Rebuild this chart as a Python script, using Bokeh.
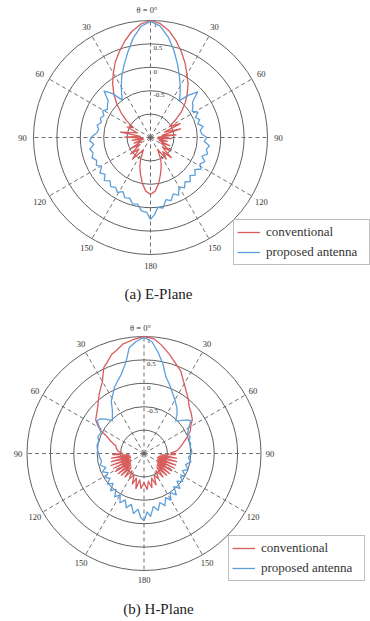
import numpy as np
from bokeh.plotting import figure
from bokeh.models import Range1d, Legend, LegendItem
from bokeh.layouts import column
from bokeh.embed import file_html
from bokeh.resources import INLINE
from bokeh.core.properties import value

# ---------------- data (radial values in the chart's own units) ----------------
R_MIN, R_MAX = -1.5, 1.0
ring_values = [-1.0, -0.5, 0.0, 0.5, 1.0]
radial_tick_values = [1.0, 0.5, 0.0, -0.5]
radial_tick_labels = ["1", "0.5", "0", "-0.5"]
spoke_angles = [0, 30, 60, 90, 120, 150, 180, 210, 240, 270, 300, 330]
angle_tick_labels = ["θ = 0°", "30", "60", "90", "120", "150", "180",
                     "150", "120", "90", "60", "30"]

# E-plane, conventional
e_conv_theta = [-180, -175, -170, -165, -160, -155, -150, -145, -140, -135, -130, -124,
                -119, -114, -109, -104, -99, -94, -89, -84, -80, -71, -66, -60, -55,
                -50, -45, -40, -35, -30, -25, -20, -15, -10, -5,
                0, 5, 10, 15, 20, 25, 30, 35, 40, 45, 50, 55, 60, 65, 69, 74, 79,
                84, 88, 93, 98, 103, 108, 113, 118, 124, 129, 134, 139, 144, 149,
                155, 160, 165, 170, 175, 180]
e_conv_value = [-0.28, -0.35, -0.50, -0.68, -0.83, -1.00, -1.20, -1.08, -0.90, -1.15, -0.95, -1.23,
                -1.03, -1.28, -1.13, -1.35, -1.10, -1.33, -0.95, -1.28, -0.85, -1.20, -0.95, -1.08, -0.88,
                -0.68, -0.48, -0.28, -0.09, 0.09, 0.28, 0.45, 0.63, 0.80, 0.93,
                1.00, 0.94, 0.81, 0.63, 0.44, 0.25, 0.06, -0.10, -0.28, -0.45, -0.63, -0.85, -1.03, -0.80, -1.18, -0.83, -1.25,
                -0.95, -1.33, -1.05, -1.35, -1.13, -1.30, -1.05, -1.25, -0.98, -1.18, -0.88, -1.10, -0.93, -1.20,
                -0.98, -0.83, -0.68, -0.50, -0.35, -0.28]

# E-plane, proposed antenna
e_prop_theta = [-180, -177, -173, -169, -165, -161, -157, -153, -149, -145, -141, -137, -133,
                -129, -125, -121, -117, -113, -109, -105, -101, -97, -93, -89, -85, -81,
                -77, -73, -69, -65, -61, -57, -53, -49, -45, -41, -37, -34, -30, -25,
                -20, -15, -10, -5,
                0, 5, 10, 15, 20, 25, 30, 35, 38, 42, 46, 50, 54, 58, 62, 66, 70, 74,
                78, 82, 86, 90, 94, 98, 102, 106, 110, 114, 118, 122, 126, 130, 134,
                138, 142, 146, 150, 154, 158, 162, 166, 170, 174, 177, 180]
e_prop_value = [0.25, 0.10, 0.08, -0.05, -0.03, -0.13, -0.10, -0.20, -0.13, -0.20, -0.15, -0.23, -0.15,
                -0.25, -0.18, -0.28, -0.20, -0.25, -0.18, -0.23, -0.18, -0.28, -0.20, -0.25, -0.35, -0.38,
                -0.33, -0.40, -0.35, -0.40, -0.33, -0.40, -0.35, -0.30, -0.10, -0.25, -0.50, -0.40, -0.25, -0.05,
                0.15, 0.38, 0.65, 0.88,
                0.98, 0.89, 0.68, 0.43, 0.18, -0.04, -0.23, -0.40, -0.50, -0.28, -0.10, -0.33, -0.38, -0.45, -0.35, -0.45, -0.38, -0.45,
                -0.35, -0.43, -0.40, -0.30, -0.35, -0.23, -0.28, -0.23, -0.33, -0.23, -0.30, -0.23, -0.33, -0.25, -0.33,
                -0.23, -0.30, -0.20, -0.28, -0.13, -0.20, -0.08, -0.13, 0.03, 0.00, 0.15, 0.25]

# H-plane, conventional
h_conv_theta = [-180, -175, -171, -167, -163, -159, -155, -150, -145, -141, -137, -134, -131,
                -128, -125, -122, -119, -116, -113, -110, -107, -104, -101, -98, -95, -92,
                -89, -85, -80, -75, -70, -66, -62, -59, -55, -50, -45, -37, -30, -25, -22,
                -18, -15, -11, -5,
                0, 5, 9, 14, 19, 24, 29, 34, 39, 44, 50, 55, 59, 64, 70, 76, 81, 85, 89,
                92, 95, 98, 101, 104, 107, 110, 113, 116, 119, 122, 125, 128, 131, 134,
                137, 141, 145, 150, 155, 159, 163, 167, 171, 175, 180]
h_conv_value = [-0.88, -0.75, -0.93, -0.73, -0.95, -0.80, -1.00, -0.88, -1.05, -0.85, -1.10, -0.83, -1.13,
                -0.80, -1.15, -0.78, -1.18, -0.78, -1.18, -0.75, -1.20, -0.78, -1.20, -0.80, -1.18, -0.83,
                -1.03, -0.95, -0.90, -0.88, -0.75, -0.65, -0.45, -0.35, -0.24, -0.18, -0.10, 0.09, 0.28, 0.53, 0.60,
                0.73, 0.78, 0.88, 0.95,
                1.00, 0.96, 0.85, 0.70, 0.55, 0.43, 0.25, 0.11, 0.00, -0.11, -0.18, -0.24, -0.33, -0.40, -0.53, -0.65, -0.73, -0.79, -0.93,
                -0.83, -1.15, -0.80, -1.18, -0.78, -1.20, -0.78, -1.18, -0.78, -1.18, -0.80, -1.15, -0.80, -1.13, -0.83,
                -1.10, -0.85, -1.05, -0.88, -0.98, -0.78, -0.95, -0.75, -0.90, -0.73, -0.88]

# H-plane, proposed antenna
h_prop_theta = [-180, -177, -174, -170, -166, -162, -158, -154, -150, -146, -142, -138, -134,
                -130, -126, -122, -118, -114, -110, -105, -100, -95, -90, -85, -80, -75,
                -70, -64, -59, -55, -52, -48, -44, -40, -36, -32, -28, -24, -20, -16,
                -11, -8, -4,
                0, 4, 8, 12, 16, 20, 24, 30, 36, 40, 44, 48, 52, 55, 58, 62, 66, 70, 74,
                78, 82, 86, 90, 95, 100, 105, 110, 114, 118, 122, 126, 130, 134, 138,
                142, 146, 150, 154, 158, 162, 166, 170, 174, 177, 180]
h_prop_value = [-0.06, -0.13, -0.30, -0.20, -0.38, -0.28, -0.43, -0.33, -0.48, -0.38, -0.53, -0.43, -0.58,
                -0.48, -0.60, -0.53, -0.63, -0.53, -0.63, -0.53, -0.58, -0.55, -0.53, -0.50, -0.48, -0.50,
                -0.45, -0.48, -0.38, -0.28, -0.30, -0.40, -0.53, -0.45, -0.35, -0.18, -0.08, 0.05, 0.15, 0.26,
                0.50, 0.78, 0.90,
                0.98, 0.90, 0.68, 0.45, 0.20, 0.08, -0.04, -0.18, -0.30, -0.40, -0.53, -0.45, -0.33, -0.28, -0.35, -0.43, -0.48, -0.45, -0.50,
                -0.48, -0.50, -0.48, -0.48, -0.55, -0.48, -0.58, -0.50, -0.60, -0.50, -0.58, -0.48, -0.58, -0.43, -0.55,
                -0.38, -0.50, -0.35, -0.45, -0.30, -0.40, -0.25, -0.35, -0.15, -0.25, -0.06]

series_labels = ["conventional", "proposed antenna"]
captions = ["(a) E-Plane", "(b) H-Plane"]

# ---------------- styling ----------------
RED = "#d85c5c"
BLUE = "#5c9fdc"
GRID = "#606060"
TXT = "#333333"
FONT = "Liberation Serif"
PX = 117.0  # pixels per unit of normalized radius


def rho(v):
    return (np.asarray(v, dtype=float) - R_MIN) / (R_MAX - R_MIN)


def to_xy(theta_deg, vals):
    t = np.radians(np.asarray(theta_deg, dtype=float))
    r = rho(vals)
    return r * np.sin(t), r * np.cos(t)


def polar_panel(width, height, cx, cy, conv, prop, caption, cap_xy, legend_loc, label_r):
    p = figure(width=width, height=height, output_backend="svg", toolbar_location=None,
               x_range=Range1d(-cx / PX, (width - cx) / PX),
               y_range=Range1d(-(height - cy) / PX, cy / PX),
               x_axis_location=None, y_axis_location=None, min_border=0,
               outline_line_color=None, background_fill_color="white",
               border_fill_color="white")
    p.grid.visible = False

    # rings
    rr = rho(ring_values)
    p.circle(x=[0] * len(rr), y=[0] * len(rr), radius=list(rr), fill_color=None,
             line_color=GRID, line_width=1)
    # spokes
    sa = np.radians(spoke_angles)
    p.segment(x0=[0] * len(sa), y0=[0] * len(sa), x1=list(np.sin(sa)), y1=list(np.cos(sa)),
              line_color=GRID, line_width=0.9, line_dash="4 3")
    # angle labels
    lx = list(label_r / PX * np.sin(sa))
    ly = list(label_r / PX * np.cos(sa))
    lx[0] -= 3.5 / PX
    p.text(x=lx, y=ly, text=angle_tick_labels, text_font=value(FONT),
           text_font_size="8.5px", text_color=TXT, text_align="center", text_baseline="middle")
    # radial labels
    ry = list(rho(radial_tick_values) - 4.5 / PX)
    p.text(x=[3.0 / PX] * len(ry), y=ry, text=radial_tick_labels, text_font=value(FONT),
           text_font_size="7px", text_color=TXT, text_align="left", text_baseline="middle")

    # curves
    x1, y1 = to_xy(*conv)
    x2, y2 = to_xy(*prop)
    r1 = p.line(list(x1), list(y1), line_color=RED, line_width=1.3, line_join="round")
    r2 = p.line(list(x2), list(y2), line_color=BLUE, line_width=1.3, line_join="round")

    legend = Legend(items=[LegendItem(label=series_labels[0], renderers=[r1]),
                           LegendItem(label=series_labels[1], renderers=[r2])],
                    location=legend_loc, orientation="vertical",
                    label_text_font=FONT, label_text_font_size="13px", label_text_color=TXT,
                    glyph_width=23, glyph_height=18, label_height=18, label_width=100,
                    label_standoff=6, padding=3, spacing=2, margin=0,
                    border_line_color="#808080", border_line_width=1,
                    background_fill_color="white", background_fill_alpha=1.0)
    p.add_layout(legend, "center")

    # caption
    p.text(x=[cap_xy[0]], y=[cap_xy[1]], text=[caption], text_font=value(FONT),
           text_font_size="15px", text_color="#222222", text_align="center",
           text_baseline="middle")
    return p


W = 370
p1 = polar_panel(W, 310, 150, 137, (e_conv_theta, e_conv_value), (e_prop_theta, e_prop_value),
                 captions[0], ((158 - 150) / PX, (137 - 293) / PX), (233, 45), 128)
p2 = polar_panel(W, 311, 143.5, 143, (h_conv_theta, h_conv_value), (h_prop_theta, h_prop_value),
                 captions[1], ((158 - 143.5) / PX, (143 - 298) / PX), (228, 40), 126)

layout = column(p1, p2, spacing=0)
open("out.html", "w").write(file_html(layout, INLINE))
